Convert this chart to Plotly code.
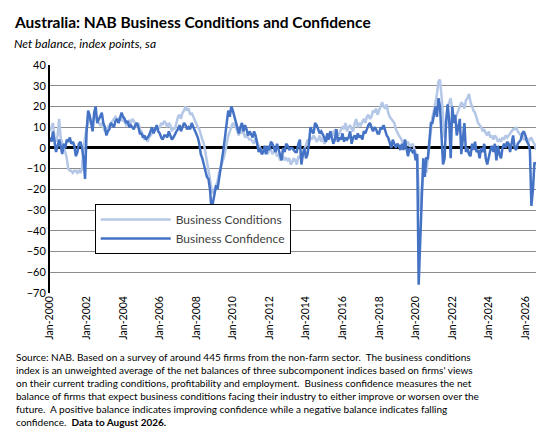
import plotly.graph_objects as go
import pandas as pd

conditions = [
 8,10,12,5,3,6,14,5,2,0,-2,-5,
 -10,-11,-11,-12,-11,-11,-12,-11,-12,-10,0,5,
 10,12,14,13,12,15,16,13,12,11,12,10,
 8,9,10,11,12,13,14,15,14,13,15,13,
 14,12,11,12,13,12,14,13,11,10,12,9,
 8,6,4,5,3,5,6,7,8,9,10,9,
 10,12,11,13,12,10,12,11,8,10,9,12,
 15,16,14,17,18,20,18,19,16,17,15,14,
 12,10,9,6,4,2,-2,-5,-10,-15,-20,-22,
 -20,-18,-16,-12,-10,-8,-5,-2,2,6,8,10,
 12,11,10,8,6,9,7,8,5,6,5,4,
 4,3,2,5,3,1,0,-2,-1,-3,-2,-3,
 0,-1,-3,-2,-1,-4,-3,-6,-5,-4,-6,-5,
 -6,-5,-8,-7,-5,-6,-8,-4,-5,-2,-3,-1,
 2,4,3,5,4,6,5,3,4,6,3,5,
 2,3,4,6,7,8,6,9,8,6,7,9,
 10,9,12,8,10,11,9,8,12,14,10,12,
 11,13,14,12,15,16,14,15,18,17,19,16,
 18,20,22,20,19,21,17,15,14,13,12,9,
 7,6,5,3,2,4,2,3,1,1,2,0,
 -2,-5,-20,-30,-20,-10,-5,-12,-5,0,10,15,
 18,22,26,32,33,25,15,5,12,20,22,24,
 18,15,14,16,18,20,22,21,19,23,24,26,
 22,20,18,17,14,12,11,10,8,9,7,6,
 8,5,6,4,6,5,3,4,3,5,4,6,
 5,6,7,8,9,9,10,8,7,6,6,4,
 4,5,3,4,5,3,2,-1]

confidence = [
 5,3,8,3,-2,1,4,1,-3,2,0,4,
 3,5,2,3,1,-4,-2,2,3,0,-5,-15,
 8,18,16,12,8,17,20,12,14,16,17,12,
 10,6,8,9,12,11,10,13,14,12,15,17,
 15,14,12,13,10,11,10,9,11,12,10,7,
 7,5,6,4,5,6,8,10,7,9,11,8,
 7,5,4,6,6,5,8,6,4,5,7,8,
 9,11,8,10,12,11,9,10,9,12,10,8,
 6,5,2,-3,-5,-8,-10,-14,-15,-20,-30,-26,
 -22,-18,-20,-15,-12,-5,0,6,12,18,15,20,
 18,15,12,10,7,10,12,8,11,9,6,8,
 6,5,8,6,2,-2,0,-3,-2,1,-3,1,
 -1,3,2,0,-2,2,-1,-3,-6,0,-2,2,
 1,-1,0,0,-1,-2,-2,2,4,-8,-3,0,
 -5,-3,2,10,8,7,12,11,9,7,8,6,
 5,3,7,4,8,5,2,4,9,3,5,4,
 7,3,5,4,5,8,2,5,6,4,7,5,
 6,4,8,7,9,11,12,10,8,10,9,7,
 7,10,9,11,8,6,5,3,0,4,2,0,
 2,1,-1,2,-1,4,0,-4,0,-1,-2,-1,
 -6,-3,-66,-45,-25,-5,-14,-5,-5,6,12,12,
 17,20,15,24,20,8,-8,-5,13,21,13,-5,
 20,12,16,6,10,14,-3,6,12,-2,0,-3,
 -4,2,-1,3,-2,-1,-5,0,-2,2,-5,-8,
 -4,-1,1,-2,2,-6,1,-3,-5,0,2,0,
 3,2,-2,3,6,0,-1,2,3,4,7,8,
 6,3,2,-1,-28,-20,-7,-8]

dates = pd.date_range("2000-01-01", periods=len(conditions), freq="MS")
tick_vals = pd.date_range("2000-01-01", "2026-01-01", freq="24MS")
tick_text = [d.strftime("%b-%Y") for d in tick_vals]

FONT = "Lato, Carlito, 'Liberation Sans', sans-serif"
fig = go.Figure()
fig.add_trace(go.Scatter(x=dates, y=conditions, mode="lines", name="Business Conditions",
                         line=dict(color="#B4C7E7", width=2.5)))
fig.add_trace(go.Scatter(x=dates, y=confidence, mode="lines", name="Business Confidence",
                         line=dict(color="#4472C4", width=2.5)))

fig.update_layout(
    width=548, height=436, paper_bgcolor="white", plot_bgcolor="white",
    margin=dict(l=42, r=20, t=57, b=151),
    font=dict(family=FONT, size=11, color="black"),
    showlegend=True,
    legend=dict(x=0.092, y=0.39, xanchor="left", yanchor="top",
                bordercolor="black", borderwidth=1, bgcolor="white",
                font=dict(size=12, color="#404040"), tracegroupgap=14,
                itemwidth=70, entrywidth=250),
    xaxis=dict(range=[dates[0], dates[-1]], tickvals=tick_vals, ticktext=tick_text,
               tickangle=-90, showgrid=False, ticks="", tickfont=dict(size=10.5)),
    yaxis=dict(range=[-70, 40], dtick=10, showgrid=True, gridcolor="#8c8c8c", gridwidth=1,
               zeroline=True, zerolinecolor="black", zerolinewidth=2.5,
               showline=True, linecolor="black", linewidth=2, tickfont=dict(size=11)),
)
fig.add_annotation(x=0, y=1, xref="paper", yref="paper", xshift=-38, yshift=54,
    text="<b>Australia: NAB Business Conditions and Confidence</b>",
    showarrow=False, xanchor="left", yanchor="top", font=dict(size=15.5))
fig.add_annotation(x=0, y=1, xref="paper", yref="paper", xshift=-38, yshift=31,
    text="<i>Net balance, index points, sa</i>",
    showarrow=False, xanchor="left", yanchor="top", font=dict(size=12))
foot = ("Source: NAB. Based on a survey of around 445 firms from the non-farm sector.  The business conditions<br>"
        "index is an unweighted average of the net balances of three subcomponent indices based on firms' views<br>"
        "on their current trading conditions, profitability and employment.  Business confidence measures the net<br>"
        "balance of firms that expect business conditions facing their industry to either improve or worsen over the<br>"
        "future.  A positive balance indicates improving confidence while a negative balance indicates falling<br>"
        "confidence.  <b>Data to August 2026.</b>")
fig.add_annotation(x=0, y=0, xref="paper", yref="paper", xshift=-36, yshift=-56,
    text=foot, showarrow=False, xanchor="left", yanchor="top", align="left",
    font=dict(size=10))
fig.write_html("out.html")
